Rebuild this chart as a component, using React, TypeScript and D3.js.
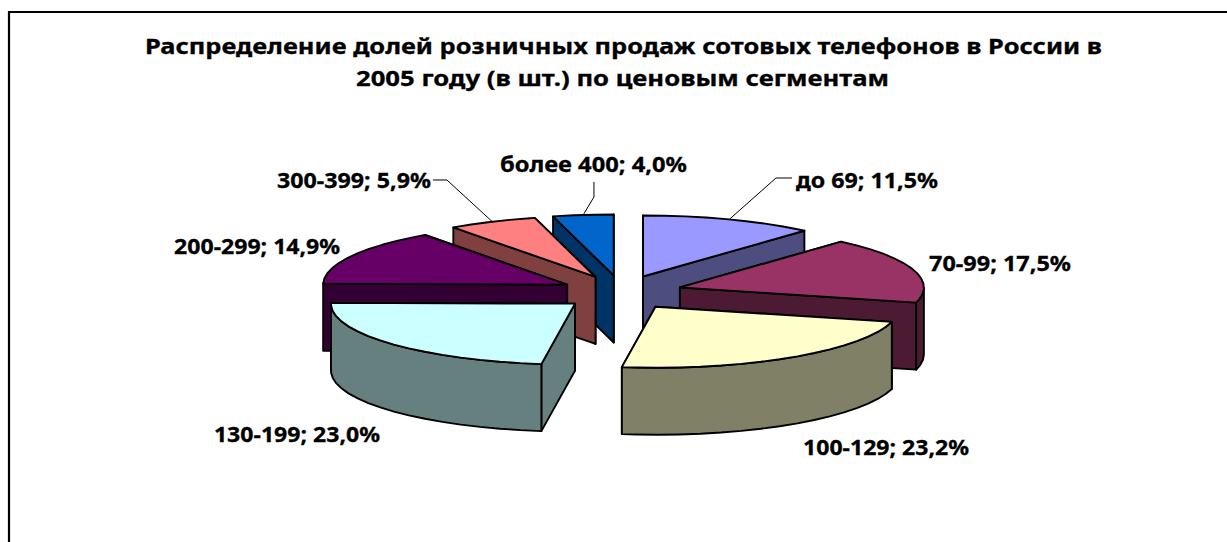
import React from "react";
import * as d3 from "d3";

// ---- data ----
const categories = ["до 69", "70-99", "100-129", "130-199", "200-299", "300-399", "более 400"];
const shares = [11.5, 17.5, 23.2, 23.0, 14.9, 5.9, 4.0];
const shareLabels = ["11,5%", "17,5%", "23,2%", "23,0%", "14,9%", "5,9%", "4,0%"];
const topColors = ["#9999FF", "#993366", "#FFFFCC", "#CCFFFF", "#660066", "#FF8080", "#0066CC"];
const titleLines = [
  "Распределение долей розничных продаж сотовых телефонов в России в",
  "2005 году (в шт.) по ценовым сегментам",
];

// ---- layout ----
const W = 1227, H = 542;
const FONT = "'Noto Sans', 'Open Sans', sans-serif";
const FS = 21;
const cx = 621.4, cy = 292.5, rx = 244, ry = 61, explode = 61.2, tilt = 0.28, depth = 67;
const drawOrder = [6, 5, 4, 0, 1, 2, 3];
const titleLayout = [
  { x: 145, y: 54, w: 957 },
  { x: 356, y: 86, w: 533 },
];
const labelLayout = [
  { dx: 66.7, dy: -31, w: 142, leader: [[46.7, -41.4], [62.7, -41.4]] },
  { dx: 15.9, dy: 1, w: 142, leader: null },
  { dx: 11.7, dy: 98, w: 166, leader: null },
  { dx: -176, dy: 99, w: 166, leader: null },
  { dx: -176.7, dy: -2.5, w: 166, leader: null },
  { dx: -215.4, dy: -33.5, w: 154, leader: [[-45.4, -41.7], [-59.4, -41.7]] },
  { dx: -83.2, dy: -43, w: 187, leader: [[10.8, -18], [10.8, -33]] },
];

const STEP = (5 * Math.PI) / 180;
type P = [number, number];
const line = d3.line<P>();

function angleSamples(a0: number, a1: number): number[] {
  const out = d3.range(a0, a1, STEP);
  out.push(a1);
  return out;
}

export default function App() {
  const arcs = d3.pie<number>().sort(null).value((d) => d)(shares);

  const slices = arcs.map((a, i) => {
    const mid = (a.startAngle + a.endAngle) / 2;
    const ax = cx + explode * Math.sin(mid);
    const ay = cy - explode * tilt * Math.cos(mid);
    const pt = (t: number): P => [ax + rx * Math.sin(t), ay - ry * Math.cos(t)];
    const down = (p: P): P => [p[0], p[1] + depth];
    const apex: P = [ax, ay];
    const top = angleSamples(a.startAngle, a.endAngle).map(pt);
    const radial = [a.startAngle, a.endAngle]
      .map((t) => pt(t))
      .sort((p, q) => p[1] - q[1])
      .map((p) => [apex, p, down(p), down(apex)] as P[]);
    const fa0 = Math.max(a.startAngle, Math.PI / 2);
    const fa1 = Math.min(a.endAngle, (3 * Math.PI) / 2);
    let front: P[] | null = null;
    if (fa1 > fa0) {
      const f = angleSamples(fa0, fa1).map(pt);
      front = [...f, ...f.slice().reverse().map(down)];
    }
    const outerMid = pt(mid);
    const c = d3.color(topColors[i])!.rgb();
    const wall = d3.rgb(c.r / 2, c.g / 2, c.b / 2).formatHex();
    return { i, apex, top, radial, front, outerMid, wall };
  });

  const bySlice = new Map(slices.map((s) => [s.i, s]));
  const strokeProps = { stroke: "#000", strokeWidth: 1.9, strokeLinejoin: "round" as const };
  const textProps = {
    lengthAdjust: "spacingAndGlyphs",
    fontFamily: FONT,
    fontWeight: 700,
    fontSize: FS,
    fill: "#000",
    stroke: "#000",
    strokeWidth: 0.3,
  };

  return (
    <svg
      width={W}
      height={H}
      viewBox={`0 0 ${W} ${H}`}
      style={{ position: "absolute", left: 0, top: 0, display: "block", background: "#fff" }}
    >
      <path d={`M9 ${H}V12H${W}`} fill="none" stroke="#000" strokeWidth={2.2} />

      {titleLines.map((t, i) => (
        <text key={i} x={titleLayout[i].x} y={titleLayout[i].y} textLength={titleLayout[i].w} {...textProps}>
          {t}
        </text>
      ))}

      {drawOrder.map((i) => {
        const s = bySlice.get(i)!;
        return (
          <g key={i}>
            {s.radial.map((r, k) => (
              <path key={k} d={line(r)! + "Z"} fill={s.wall} {...strokeProps} />
            ))}
            {s.front && <path d={line(s.front)! + "Z"} fill={s.wall} {...strokeProps} />}
            <path d={line([s.apex, ...s.top])! + "Z"} fill={topColors[i]} {...strokeProps} />
          </g>
        );
      })}

      {slices.map((s) => {
        const l = labelLayout[s.i];
        if (!l.leader) return null;
        const pts: P[] = [
          s.outerMid,
          ...l.leader.map((o) => [s.outerMid[0] + o[0], s.outerMid[1] + o[1]] as P),
        ];
        return <path key={s.i} d={line(pts)!} fill="none" stroke="#000" strokeWidth={1} />;
      })}

      {slices.map((s) => {
        const l = labelLayout[s.i];
        return (
          <text key={s.i} x={s.outerMid[0] + l.dx} y={s.outerMid[1] + l.dy} textLength={l.w} {...textProps}>
            {`${categories[s.i]}; ${shareLabels[s.i]}`}
          </text>
        );
      })}
    </svg>
  );
}
